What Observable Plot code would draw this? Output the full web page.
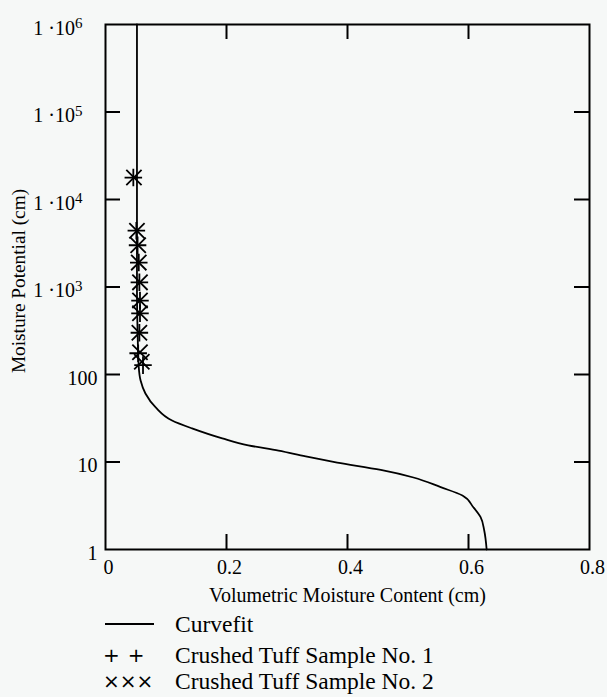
<!DOCTYPE html>
<html><head><meta charset="utf-8">
<script src="https://cdn.jsdelivr.net/npm/d3@7"></script>
<script src="https://cdn.jsdelivr.net/npm/@observablehq/plot@0.6"></script>
<style>
html,body{margin:0;padding:0;background:#f6f8f7;}
body{position:relative;width:607px;height:697px;overflow:hidden;font-family:"Liberation Serif","Times New Roman",serif;color:#000;}
#chart svg{display:block;}
.row{position:absolute;left:0;height:26px;width:607px;}
.sym{position:absolute;left:103px;top:0;height:26px;line-height:26px;font-family:"DejaVu Sans",sans-serif;font-size:20px;}
.lab{position:absolute;left:175px;top:0;height:26px;line-height:26px;font-size:23.5px;white-space:nowrap;}
.line{position:absolute;left:105px;top:12px;width:49px;height:2px;background:#000;}
</style></head><body>
<div id="chart"></div>
<div id="legend"></div>
<script>
// Curve fit
const curveTheta = [0.052, 0.052, 0.052, 0.053, 0.055, 0.058, 0.066, 0.083, 0.110, 0.143, 0.193, 0.236, 0.286, 0.331, 0.383, 0.455, 0.509, 0.554, 0.590, 0.608, 0.620, 0.626, 0.630];
const curveH     = [1e6, 1e4, 961, 318, 121, 85.3, 60.7, 42, 29.8, 24.2, 18.6, 15.5, 13.5, 11.56, 9.86, 8.11, 6.65, 5.16, 4.14, 3.04, 2.34, 1.65, 1];
// Crushed Tuff Sample No. 1 (+)
const s1Theta = [0.046, 0.051, 0.053, 0.055, 0.056, 0.057, 0.057, 0.056, 0.054, 0.062];
const s1H     = [17800, 4400, 3000, 1900, 1130, 700, 500, 300, 175, 128];
// Crushed Tuff Sample No. 2 (x)
const s2Theta = [0.047, 0.052, 0.054, 0.055, 0.057, 0.057, 0.057, 0.056, 0.057, 0.060];
const s2H     = [17800, 4400, 3000, 1900, 1130, 700, 500, 300, 180, 140];

const xTicks = [0, 0.2, 0.4, 0.6, 0.8];
const xTickLabels = ["0", "0.2", "0.4", "0.6", "0.8"];
const yTicks = [1, 10, 100, 1e3, 1e4, 1e5, 1e6];
const yTickLabels = ["1", "10", "100", "1 \u00B710^3", "1 \u00B710^4", "1 \u00B710^5", "1 \u00B710^6"];
const xLabel = "Volumetric Moisture Content (cm)";
const yLabel = "Moisture Potential (cm)";
const legendLabels = ["Curvefit", "Crushed Tuff Sample No. 1", "Crushed Tuff Sample No. 2"];

const FONT = "Liberation Serif, Times New Roman, serif";
const W = 607, H = 612, mL = 105, mR = 18, mT = 24, mB = 63;
const fw = W - mL - mR, fh = H - mT - mB, tickLen = 15;

const curve = curveTheta.map((t, i) => ({t, h: curveH[i]}));
const s1 = s1Theta.map((t, i) => ({t, h: s1H[i]}));
const s2 = s2Theta.map((t, i) => ({t, h: s2H[i]}));
const xLab = new Map(xTicks.map((d, i) => [d, xTickLabels[i]]));
const yLab = new Map(yTicks.map((d, i) => [d, yTickLabels[i]]));
const yPlain = yTicks.filter(d => !yLab.get(d).includes("^"));
const yExp = yTicks.filter(d => yLab.get(d).includes("^"));
const xInner = xTicks.slice(1, -1);
const yInner = yTicks.slice(1, -1);

const chart = Plot.plot({
  width: W, height: H,
  marginLeft: mL, marginRight: mR, marginTop: mT, marginBottom: mB,
  style: {background: "#f6f8f7", fontFamily: FONT, color: "black"},
  x: {domain: [0, 0.8]},
  y: {type: "log", domain: [1, 1e6]},
  marks: [
    Plot.tickX(xInner, {x: d => d, insetTop: fh - tickLen, strokeWidth: 2}),
    Plot.tickX(xInner, {x: d => d, insetBottom: fh - tickLen, strokeWidth: 2}),
    Plot.tickY(yInner, {y: d => d, insetRight: fw - tickLen, strokeWidth: 2}),
    Plot.tickY(yInner, {y: d => d, insetLeft: fw - tickLen, strokeWidth: 2}),
    Plot.axisX(xTicks, {tickSize: 0, tickPadding: 10, dx: 3, fontSize: 20, fontFamily: FONT, tickFormat: d => xLab.get(d), label: null}),
    Plot.axisY(yPlain, {tickSize: 0, tickPadding: 8, dy: 4, fontSize: 20, fontFamily: FONT, tickFormat: d => yLab.get(d), label: null}),
    Plot.axisY(yExp, {tickSize: 0, tickPadding: 23, dy: 4, fontSize: 20, fontFamily: FONT, tickFormat: d => yLab.get(d), label: null}),
    Plot.text([xLabel], {frameAnchor: "bottom", lineAnchor: "middle", textAnchor: "middle", dy: 46, fontSize: 20, fontFamily: FONT}),
    Plot.text([yLabel], {frameAnchor: "left", textAnchor: "middle", lineAnchor: "middle", rotate: -90, dx: -87, dy: -6, fontSize: 19.3, fontFamily: FONT}),
    Plot.line(curve, {x: "t", y: "h", curve: "monotone-y", strokeWidth: 1.8, stroke: "black"}),
    Plot.dot(s1, {x: "t", y: "h", symbol: "plus", r: 5.7, stroke: "black", strokeWidth: 1.8}),
    Plot.dot(s2, {x: "t", y: "h", symbol: "times", r: 7, stroke: "black", strokeWidth: 1.8}),
    Plot.frame({stroke: "black", strokeWidth: 2})
  ]
});

// superscript exponents
chart.querySelectorAll("text").forEach(t => {
  const s = t.textContent;
  if (s.includes("^")) {
    const [base, exp] = s.split("^");
    t.textContent = "";
    const a = document.createElementNS("http://www.w3.org/2000/svg", "tspan");
    a.textContent = base;
    const b = document.createElementNS("http://www.w3.org/2000/svg", "tspan");
    b.textContent = exp;
    b.setAttribute("dy", "-0.45em");
    b.setAttribute("font-size", "0.75em");
    t.appendChild(a); t.appendChild(b);
  }
});
document.getElementById("chart").appendChild(chart);

// legend
const legend = document.getElementById("legend");
const tops = [611, 642, 668];
const syms = [null, "+\u2009\u2009+", "\u00D7\u00D7\u00D7"];
legendLabels.forEach((lab, i) => {
  const row = document.createElement("div");
  row.className = "row";
  row.style.top = tops[i] + "px";
  if (i === 0) {
    const l = document.createElement("div"); l.className = "line"; row.appendChild(l);
  } else {
    const s = document.createElement("div"); s.className = "sym"; s.textContent = syms[i]; row.appendChild(s);
  }
  const t = document.createElement("div"); t.className = "lab"; t.textContent = lab; row.appendChild(t);
  legend.appendChild(row);
});
</script>
</body></html>
